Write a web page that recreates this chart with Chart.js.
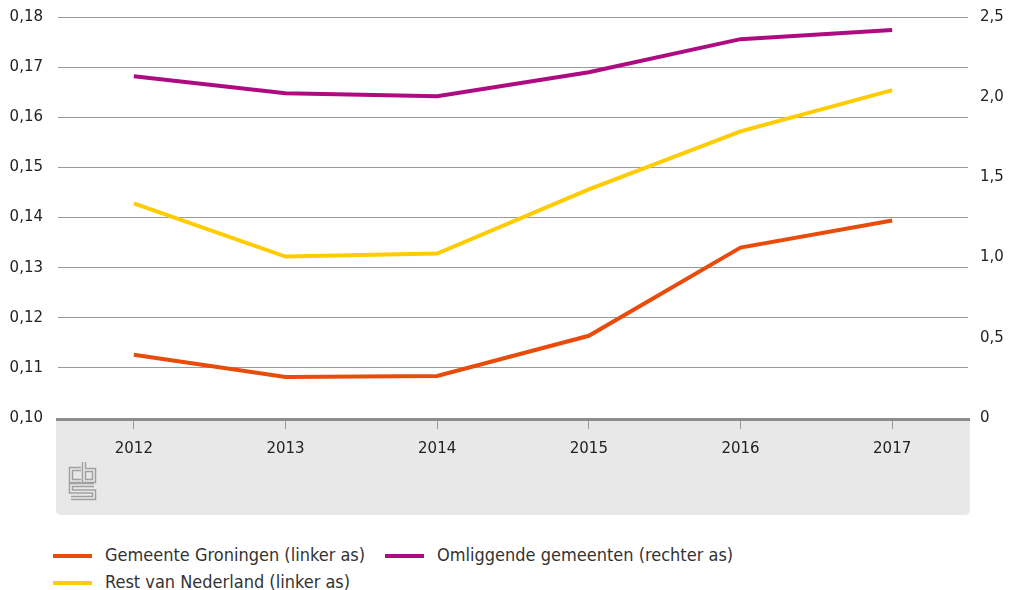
<!DOCTYPE html>
<html>
<head>
<meta charset="utf-8">
<script src="https://cdn.jsdelivr.net/npm/chart.js@4"></script>
<style>
  html, body { margin: 0; padding: 0; background: #fff; }
  #wrap { position: relative; width: 1012px; height: 590px; }
  #chart { position: absolute; left: 0; top: 0; }
  .legend { position: absolute; height: 20px; font-family: "Liberation Sans Narrow", "DejaVu Sans Condensed", sans-serif; font-size: 18px; line-height: 20px; color: #333; }
  .legend .sw { position: absolute; width: 39px; height: 4px; left: 0; top: 9px; }
  .legend .lbl { position: absolute; left: 52px; top: 0; white-space: nowrap; }
</style>
</head>
<body>
<div id="wrap">
  <canvas id="chart" width="1012" height="520"></canvas>
  <div class="legend" style="left:53px; top:545px;"><span class="sw" style="background:#e94c0a"></span><span class="lbl">Gemeente Groningen (linker as)</span></div>
  <div class="legend" style="left:385px; top:545px;"><span class="sw" style="background:#af0b80"></span><span class="lbl">Omliggende gemeenten (rechter as)</span></div>
  <div class="legend" style="left:53px; top:572px;"><span class="sw" style="background:#ffcc00"></span><span class="lbl">Rest van Nederland (linker as)</span></div>
</div>
<script>
const years = ['2012', '2013', '2014', '2015', '2016', '2017'];
const groningen = [0.1126, 0.1082, 0.1084, 0.1164, 0.1340, 0.1394];
const restNL = [0.1428, 0.1322, 0.1328, 0.1456, 0.1572, 0.1654];
const omliggend = [2.131, 2.025, 2.006, 2.156, 2.362, 2.419];

const comma = (v, d) => v.toFixed(d).replace('.', ',');

// grey footer band under the x axis, thick axis line and the cbs mark
const footer = {
  id: 'footer',
  beforeDraw(chart) {
    const ctx = chart.ctx;
    const a = chart.chartArea;
    const x0 = 56, x1 = 970, y0 = a.bottom, y1 = 515, r = 6;
    ctx.save();
    ctx.fillStyle = '#e8e8e8';
    ctx.beginPath();
    ctx.moveTo(x0, y0);
    ctx.lineTo(x1, y0);
    ctx.lineTo(x1, y1 - r);
    ctx.quadraticCurveTo(x1, y1, x1 - r, y1);
    ctx.lineTo(x0 + r, y1);
    ctx.quadraticCurveTo(x0, y1, x0, y1 - r);
    ctx.closePath();
    ctx.fill();

    const logo = [
      [[81, 469], [71, 469], [71, 481], [81, 481]],
      [[84, 462], [84, 481], [94, 481], [94, 470], [84, 470]],
      [[94, 485], [71, 485], [71, 491.5], [94, 491.5], [94, 498], [71, 498]]
    ];
    ctx.lineJoin = 'miter';
    for (const [w, c] of [[4.5, '#a0a0a0'], [1.6, '#e8e8e8']]) {
      ctx.lineWidth = w;
      ctx.strokeStyle = c;
      for (const p of logo) {
        ctx.beginPath();
        p.forEach(([x, y], i) => i ? ctx.lineTo(x, y) : ctx.moveTo(x, y));
        ctx.stroke();
      }
    }
    ctx.restore();
  },
  afterDatasetsDraw(chart) {
    const ctx = chart.ctx;
    const a = chart.chartArea;
    ctx.save();
    ctx.fillStyle = '#8c8c8c';
    ctx.fillRect(56, a.bottom, 914, 3);
    ctx.restore();
  }
};

new Chart(document.getElementById('chart'), {
  type: 'line',
  data: {
    labels: years,
    datasets: [
      { label: 'Gemeente Groningen (linker as)', data: groningen, borderColor: '#e94c0a', yAxisID: 'y' },
      { label: 'Rest van Nederland (linker as)', data: restNL, borderColor: '#ffcc00', yAxisID: 'y' },
      { label: 'Omliggende gemeenten (rechter as)', data: omliggend, borderColor: '#af0b80', yAxisID: 'y1' }
    ]
  },
  options: {
    responsive: false,
    animation: false,
    layout: { padding: 0 },
    elements: {
      line: { borderWidth: 4, tension: 0, borderCapStyle: 'butt' },
      point: { radius: 0 }
    },
    plugins: { legend: { display: false }, tooltip: { enabled: false } },
    scales: {
      x: {
        offset: true,
        border: { display: false },
        grid: { offset: false, drawOnChartArea: false, drawTicks: true, tickLength: 11, color: '#999' },
        ticks: { color: '#222', font: { family: 'DejaVu Sans', size: 15 }, padding: 11 },
        afterFit: s => { s.height = 102; }
      },
      y: {
        position: 'left',
        min: 0.10, max: 0.18,
        border: { display: false },
        // invisible tick marks keep the label gap without pushing the top down
        grid: { color: '#9a9a9a', lineWidth: 1, drawTicks: true, tickLength: 7, tickColor: 'rgba(0,0,0,0)' },
        ticks: { stepSize: 0.01, color: '#222', padding: 8, font: { family: 'DejaVu Sans', size: 15 },
          callback: v => comma(v, 2) },
        afterFit: s => { s.width = 58; }
      },
      y1: {
        position: 'right',
        min: 0, max: 2.5,
        border: { display: false },
        grid: { drawOnChartArea: false, drawTicks: true, tickLength: 4, tickColor: 'rgba(0,0,0,0)' },
        ticks: { stepSize: 0.5, color: '#222', padding: 8, font: { family: 'DejaVu Sans', size: 15 },
          callback: v => v === 0 ? '0' : comma(v, 1) },
        afterFit: s => { s.width = 44; }
      }
    }
  },
  plugins: [footer]
});
</script>
</body>
</html>
